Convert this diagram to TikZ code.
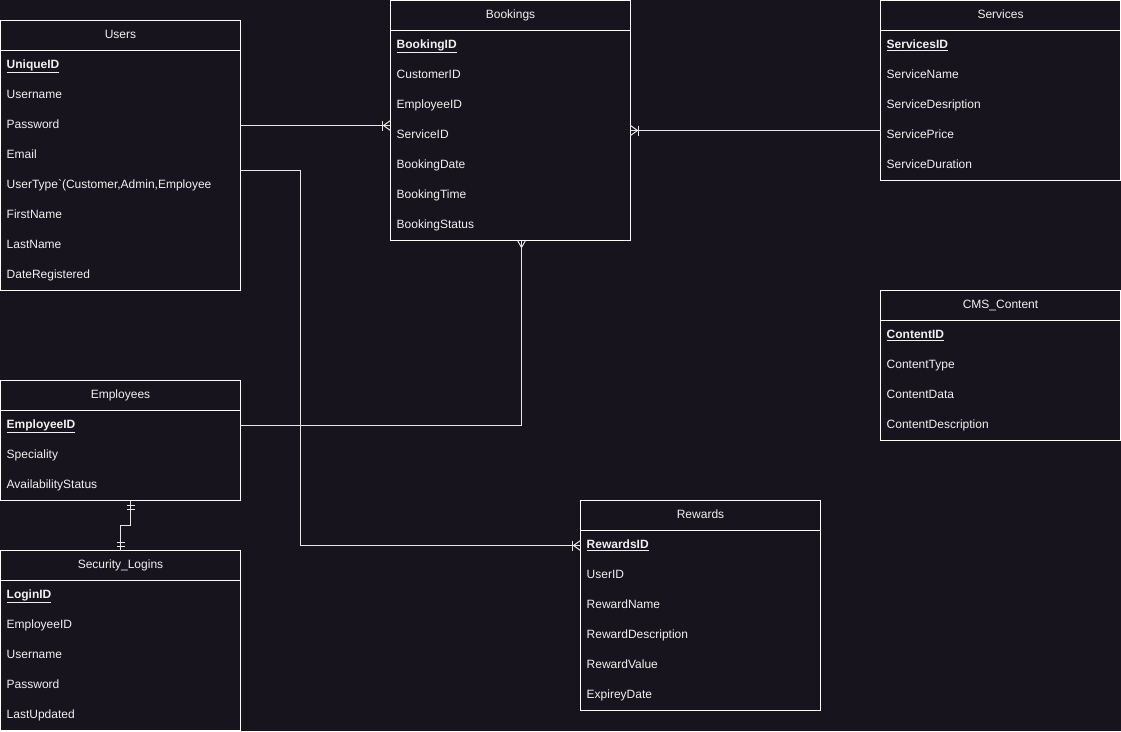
\documentclass[tikz,border=0pt]{standalone}
\usepackage{fontspec}
\setmainfont{Liberation Sans}
\usetikzlibrary{calc}
\definecolor{bg}{HTML}{18141D}
\definecolor{fg}{HTML}{F0F0F0}
\definecolor{ln}{HTML}{E6E6E6}
\tikzset{
  tbox/.style={draw=white, line width=1pt, minimum width=240pt, inner sep=0pt, outer sep=0pt, rectangle},
  ttitle/.style={text=fg, font=\fontsize{12}{14}\selectfont, inner sep=0pt, text height=8.6pt, text depth=2.6pt},
  trow/.style={text=fg, font=\fontsize{12}{14}\selectfont, inner sep=0pt, anchor=west, text height=8.6pt, text depth=2.6pt},
  conn/.style={draw=ln, line width=1pt},
  pics/onemany/.style={code={
    \draw[conn] (0,-5) -- (7,0) -- (0,5);
    \draw[conn] (8,-5) -- (8,5);
  }},
  pics/manydown/.style={code={
    \draw[conn] (-4,0) -- (0,7) -- (4,0);
  }},
  pics/onedown/.style={code={
    \draw[conn] (-4,5) -- (4,5);
    \draw[conn] (-4,9) -- (4,9);
  }},
  pics/oneup/.style={code={
    \draw[conn] (-4,-4) -- (4,-4);
    \draw[conn] (-4,-8) -- (4,-8);
  }}
}
\newcommand{\ertab}[5]{%
  \node[tbox, minimum height={30pt+30pt*#5}] (#1) at ({#2+120},{#3+15+15*#5}) {};
  \node[ttitle] (#1-t) at ({#2+120},{#3+15}) {#4};
  \draw[white, line width=1pt] (#1.north west) ++(0,30) coordinate (#1-hl) -- (#1-hl -| #1.east);
}
\newcommand{\errows}[4]{% name, x, y, list
  \foreach [count=\i] \r in {#4} {
    \node[trow] (#1-\i) at ({#2+6},{#3+15+30*\i}) {\r};
  }
}
\newcommand{\pk}[1]{\underline{\textbf{#1}}}
\begin{document}
\begin{tikzpicture}[x=1pt,y=-1pt]
\fill[bg] (0,0) rectangle (1121,731);
\useasboundingbox (0,0) rectangle (1121,731);

\ertab{Users}{0.5}{20.5}{Users}{8}
\errows{Users}{0.5}{20.5}{\pk{UniqueID},Username,Password,Email,{UserType\textasciigrave(Customer,Admin,Employee},FirstName,LastName,DateRegistered}

\ertab{Bookings}{390.5}{0.5}{Bookings}{7}
\errows{Bookings}{390.5}{0.5}{\pk{BookingID},CustomerID,EmployeeID,ServiceID,BookingDate,BookingTime,BookingStatus}

\ertab{Services}{880.5}{0.5}{Services}{5}
\errows{Services}{880.5}{0.5}{\pk{ServicesID},ServiceName,ServiceDesription,ServicePrice,ServiceDuration}

\ertab{CMS}{880.5}{290.5}{CMS\_Content}{4}
\errows{CMS}{880.5}{290.5}{\pk{ContentID},ContentType,ContentData,ContentDescription}

\ertab{Employees}{0.5}{380.5}{Employees}{3}
\errows{Employees}{0.5}{380.5}{\pk{EmployeeID},Speciality,AvailabilityStatus}

\ertab{Security}{0.5}{550.5}{Security\_Logins}{5}
\errows{Security}{0.5}{550.5}{\pk{LoginID},EmployeeID,Username,Password,LastUpdated}

\ertab{Rewards}{580.5}{500.5}{Rewards}{6}
\errows{Rewards}{580.5}{500.5}{\pk{RewardsID},UserID,RewardName,RewardDescription,RewardValue,ExpireyDate}

% Users -> Bookings
\coordinate (c1a) at ($(Users.north east)+(0,105)$);
\coordinate (c1b) at (Bookings.west |- c1a);
\draw[conn] (c1a) -- (c1b);
\pic[xscale=-1] at (c1b) {onemany};

% Services -> Bookings
\coordinate (c2a) at ($(Services.north west)+(0,130)$);
\coordinate (c2b) at (Bookings.east |- c2a);
\draw[conn] (c2a) -- (c2b);
\pic at (c2b) {onemany};

% Employees -> Bookings
\coordinate (c3a) at ($(Employees.north east)+(0,45)$);
\coordinate (c3b) at ($(Bookings.south west)+(131,0)$);
\draw[conn] (c3a) -| (c3b);
\pic at (c3b) {manydown};

% Users -> Rewards
\coordinate (c4a) at ($(Users.north east)+(0,150)$);
\coordinate (c4b) at (Rewards.west |- Rewards-1);
\draw[conn] (c4a) -- ++(60,0) |- (c4b);
\pic[xscale=-1] at (c4b) {onemany};

% Employees -> Security_Logins
\coordinate (c5a) at ($(Employees.south)+(10,0)$);
\coordinate (c5b) at (Security.north);
\draw[conn] (c5a) -- ($(c5a)+(0,25)$) -| (c5b);
\pic at (c5a) {onedown};
\pic at (c5b) {oneup};
\end{tikzpicture}
\end{document}
